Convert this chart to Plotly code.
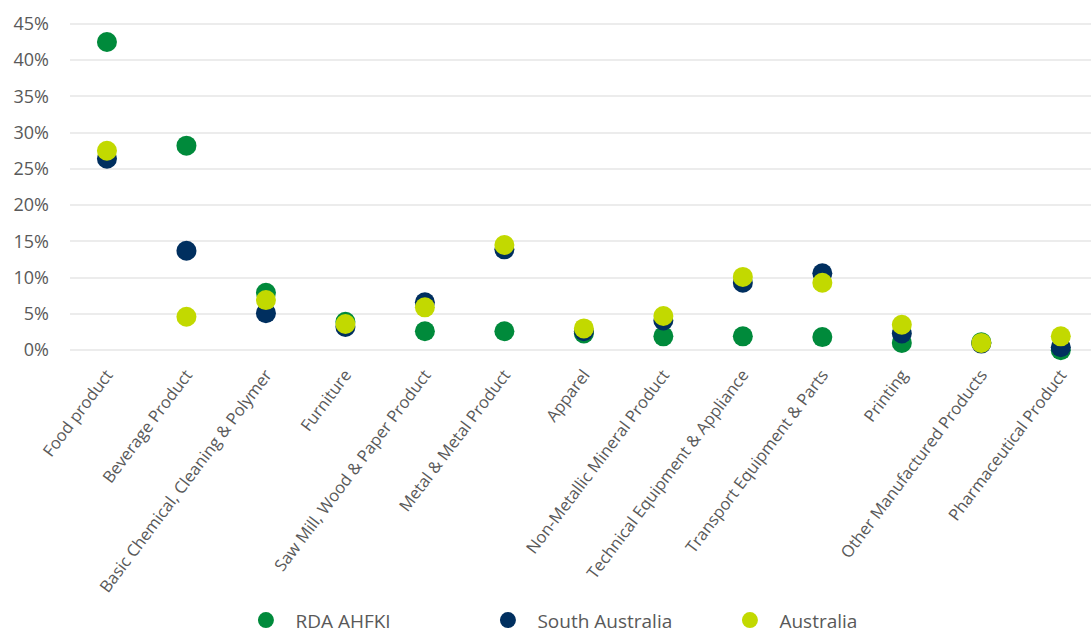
import plotly.graph_objects as go

categories = ["Food product", "Beverage Product", "Basic Chemical, Cleaning & Polymer",
              "Furniture", "Saw Mill, Wood & Paper Product", "Metal & Metal Product",
              "Apparel", "Non-Metallic Mineral Product", "Technical Equipment & Appliance",
              "Transport Equipment & Parts", "Printing", "Other Manufactured Products",
              "Pharmaceutical Product"]
rda = [42.5, 28.2, 7.9, 3.9, 2.6, 2.6, 2.3, 1.9, 1.9, 1.8, 1.0, 1.1, 0.0]
sa = [26.4, 13.7, 5.1, 3.2, 6.6, 13.9, 2.6, 4.1, 9.3, 10.6, 2.3, 0.9, 0.4]
aus = [27.5, 4.6, 6.9, 3.6, 5.9, 14.5, 3.0, 4.7, 10.1, 9.3, 3.5, 1.0, 1.9]
y_ticks = [0, 5, 10, 15, 20, 25, 30, 35, 40, 45]

series = [("RDA AHFKI", rda, "#008a3b"), ("South Australia", sa, "#002f5f"), ("Australia", aus, "#c2d900")]

fig = go.Figure()
for name, vals, color in series:
    fig.add_trace(go.Scatter(
        x=categories, y=vals, mode="markers", name=name,
        marker=dict(size=20, color=color, line=dict(width=0)),
        hovertemplate="%{x}: %{y}%<extra>" + name + "</extra>"))

font_family = "'Open Sans', Lato, sans-serif"
fig.update_layout(
    width=1091, height=635,
    margin=dict(l=70, r=0, t=13, b=274, autoexpand=False),
    paper_bgcolor="white", plot_bgcolor="white",
    font=dict(family=font_family, color="#595959", size=16),
    showlegend=True,
    legend=dict(orientation="h", x=0.163, xanchor="left", y=-0.745, yanchor="middle",
                font=dict(size=19, color="#595959"), itemwidth=49,
                entrywidth=178, entrywidthmode="pixels"),
    xaxis=dict(type="category", range=[-0.465, 12.38], showgrid=False, zeroline=False,
               tickangle=-53, tickfont=dict(size=16.5, color="#595959"), ticks="",
               showline=False, automargin=False),
    yaxis=dict(range=[-1.5, 46.5], tickvals=y_ticks, ticktext=[f"{v}%" for v in y_ticks],
               gridcolor="#ececec", gridwidth=1.5, zeroline=False, showline=False,
               tickfont=dict(size=18, color="#595959"), ticks="", ticklabelstandoff=20,
               automargin=False),
)
fig.write_html("out.html")
